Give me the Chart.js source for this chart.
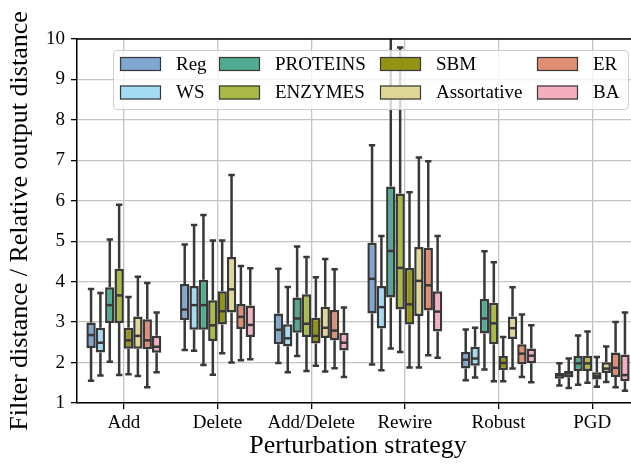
<!DOCTYPE html>
<html>
<head>
<meta charset="utf-8">
<script src="https://cdn.jsdelivr.net/npm/chart.js@4/dist/chart.umd.min.js"></script>
<style>
    html, body { margin: 0; padding: 0; background: #fff; overflow: hidden; }
    #wrap { width: 631px; height: 465px; overflow: hidden; }
</style>
</head>
<body>
<div id="wrap"><canvas id="myChart" width="660" height="465"></canvas></div>
<script>
// categories on the x axis
const categories = ['Add', 'Delete', 'Add/Delete', 'Rewire', 'Robust', 'PGD'];
const seriesNames = ['Reg', 'WS', 'PROTEINS', 'ENZYMES', 'SBM', 'Assortative', 'ER', 'BA'];
const seriesColors = ['#7fa7d0', '#a3dbf2', '#4fab91', '#abb946', '#939414', '#e0d797', '#df8e73', '#f3aec0'];

// each entry: [lower whisker, q1, median, q3, upper whisker]
const reg = [
    [1.55, 2.36, 2.68, 2.99, 3.82],
    [2.31, 3.05, 3.31, 3.94, 4.92],
    [1.99, 2.45, 2.81, 3.21, 4.32],
    [1.95, 3.21, 4.07, 4.96, 7.37],
    [1.56, 1.85, 2.07, 2.26, 2.82],
    [1.43, 1.60, 1.69, 1.74, 1.98]
];
const ws = [
    [1.68, 2.25, 2.49, 2.86, 3.72],
    [2.29, 2.81, 3.42, 3.89, 5.40],
    [1.76, 2.40, 2.60, 2.95, 3.87],
    [1.81, 2.84, 3.37, 3.89, 5.13],
    [1.63, 1.92, 2.10, 2.39, 2.86],
    [1.37, 1.63, 1.73, 1.79, 2.10]
];
const proteins = [
    [2.02, 2.98, 3.42, 3.86, 5.04],
    [1.94, 2.81, 3.42, 4.05, 5.65],
    [2.16, 2.74, 3.09, 3.61, 4.87],
    [2.35, 3.61, 4.76, 6.35, 10.6],
    [1.83, 2.72, 3.09, 3.57, 4.75],
    [1.45, 1.79, 1.98, 2.16, 2.67]
];
const enzymes = [
    [1.69, 2.98, 3.66, 4.32, 5.90],
    [1.70, 2.53, 2.92, 3.54, 5.02],
    [1.79, 2.63, 2.96, 3.69, 4.61],
    [2.26, 3.31, 4.34, 6.18, 9.79],
    [1.54, 2.45, 2.97, 3.48, 4.48],
    [1.50, 1.79, 1.98, 2.17, 2.77]
];
const sbm = [
    [1.71, 2.34, 2.55, 2.86, 3.62],
    [2.23, 2.94, 3.27, 3.76, 5.02],
    [1.92, 2.47, 2.66, 3.11, 4.11],
    [1.88, 2.94, 3.44, 4.34, 6.21],
    [1.54, 1.81, 1.99, 2.16, 2.63],
    [1.40, 1.58, 1.66, 1.76, 2.14]
];
const assortative = [
    [1.67, 2.34, 2.66, 3.14, 4.12],
    [2.00, 3.24, 3.81, 4.61, 6.64],
    [1.78, 2.61, 2.86, 3.38, 4.56],
    [1.88, 3.15, 4.02, 4.86, 7.07],
    [1.85, 2.58, 2.85, 3.14, 3.86],
    [1.52, 1.74, 1.85, 2.01, 2.40]
];
const er = [
    [1.39, 2.33, 2.55, 3.07, 3.97],
    [2.06, 2.83, 3.13, 3.45, 4.39],
    [1.86, 2.55, 2.79, 3.30, 4.31],
    [2.18, 3.29, 3.91, 4.84, 6.98],
    [1.64, 1.96, 2.22, 2.45, 3.19],
    [1.39, 1.64, 1.87, 2.25, 3.00]
];
const ba = [
    [1.76, 2.24, 2.39, 2.66, 3.24],
    [2.08, 2.63, 2.93, 3.41, 4.33],
    [1.64, 2.30, 2.49, 2.74, 3.36],
    [2.12, 2.77, 3.26, 3.76, 5.13],
    [1.51, 1.98, 2.17, 2.35, 2.92],
    [1.30, 1.54, 1.69, 2.20, 3.24]
];
const seriesStats = [reg, ws, proteins, enzymes, sbm, assortative, er, ba];

const yTicks = [1, 2, 3, 4, 5, 6, 7, 8, 9, 10];

const edgeColor = '#383838';
const serif = 'Liberation Serif';

// whiskers under the boxes, medians on top, then frame + legend
const boxPlotPlugin = {
    id: 'boxPlot',
    beforeDatasetsDraw(chart) {
        const ctx = chart.ctx;
        const yScale = chart.scales.y;
        const area = chart.chartArea;
        ctx.save();
        ctx.beginPath();
        ctx.rect(area.left, area.top, area.right - area.left, area.bottom - area.top);
        ctx.clip();
        ctx.strokeStyle = edgeColor;
        ctx.lineWidth = 2.5;
        chart.data.datasets.forEach((dataset, di) => {
            const meta = chart.getDatasetMeta(di);
            meta.data.forEach((bar, i) => {
                const s = dataset.stats[i];
                const capHalf = bar.width * 0.34;
                const yLo = yScale.getPixelForValue(s[0]);
                const yQ1 = yScale.getPixelForValue(s[1]);
                const yQ3 = yScale.getPixelForValue(s[3]);
                const yHi = yScale.getPixelForValue(s[4]);
                ctx.beginPath();
                ctx.moveTo(bar.x, yQ1);
                ctx.lineTo(bar.x, yLo);
                ctx.moveTo(bar.x, yQ3);
                ctx.lineTo(bar.x, yHi);
                ctx.moveTo(bar.x - capHalf, yLo);
                ctx.lineTo(bar.x + capHalf, yLo);
                ctx.moveTo(bar.x - capHalf, yHi);
                ctx.lineTo(bar.x + capHalf, yHi);
                ctx.stroke();
            });
        });
        ctx.restore();
    },
    afterDatasetsDraw(chart) {
        const ctx = chart.ctx;
        const yScale = chart.scales.y;
        ctx.save();
        ctx.strokeStyle = edgeColor;
        ctx.lineWidth = 2.5;
        chart.data.datasets.forEach((dataset, di) => {
            const meta = chart.getDatasetMeta(di);
            meta.data.forEach((bar, i) => {
                const yMed = yScale.getPixelForValue(dataset.stats[i][2]);
                ctx.beginPath();
                ctx.moveTo(bar.x - bar.width / 2 + 1, yMed);
                ctx.lineTo(bar.x + bar.width / 2 - 1, yMed);
                ctx.stroke();
            });
        });
        ctx.restore();
    },
    afterDraw(chart) {
        const ctx = chart.ctx;
        const area = chart.chartArea;
        ctx.save();
        // top spine
        ctx.strokeStyle = '#000';
        ctx.lineWidth = 1.5;
        ctx.beginPath();
        ctx.moveTo(area.left, area.top);
        ctx.lineTo(area.right, area.top);
        ctx.stroke();

        // legend box, 2 rows x 4 columns, filled column by column
        const lx = 113, ly = 50, lw = 515, lh = 59;
        ctx.fillStyle = 'rgba(255,255,255,0.8)';
        ctx.strokeStyle = '#cccccc';
        ctx.lineWidth = 1;
        ctx.beginPath();
        ctx.roundRect(lx + 0.5, ly + 0.5, lw, lh, 4);
        ctx.fill();
        ctx.stroke();

        const colX = [120, 219, 380, 537];
        const rowY = [64, 92.5];
        ctx.font = '19px "' + serif + '"';
        ctx.textBaseline = 'middle';
        ctx.textAlign = 'left';
        seriesNames.forEach((name, i) => {
            const col = Math.floor(i / 2);
            const row = i % 2;
            const px = colX[col];
            const py = rowY[row];
            ctx.fillStyle = seriesColors[i];
            ctx.fillRect(px, py - 7, 41, 14);
            ctx.strokeStyle = edgeColor;
            ctx.lineWidth = 1.2;
            ctx.strokeRect(px + 0.5, py - 6.5, 40, 13);
            ctx.fillStyle = '#000';
            ctx.fillText(name, px + 56, py + 1);
        });
        ctx.restore();
    }
};

function createChart() {
    const ctx = document.getElementById('myChart').getContext('2d');
    return new Chart(ctx, {
        type: 'bar',
        data: {
            labels: categories,
            datasets: seriesNames.map((name, i) => ({
                label: name,
                data: seriesStats[i].map(s => [s[1], s[3]]),
                stats: seriesStats[i],
                backgroundColor: seriesColors[i],
                borderColor: edgeColor,
                borderWidth: 2.5,
                borderSkipped: false,
                categoryPercentage: 0.8,
                barPercentage: 1.0
            }))
        },
        options: {
            responsive: false,
            animation: false,
            layout: {
                padding: { top: 39, right: 21, left: 0, bottom: 0 }
            },
            plugins: {
                legend: { display: false },
                tooltip: { enabled: false }
            },
            scales: {
                x: {
                    grid: { offset: false, color: '#c4c4c4', lineWidth: 1.3, tickColor: '#000', tickLength: 6 },
                    border: { color: '#000', width: 1.5 },
                    ticks: { color: '#000', font: { family: serif, size: 19 }, padding: 3, maxRotation: 0 },
                    title: {
                        display: true,
                        text: 'Perturbation strategy',
                        color: '#000',
                        font: { family: serif, size: 26 },
                        padding: { top: 0, bottom: 3 }
                    },
                    afterFit: scale => { scale.height = 62; }
                },
                y: {
                    min: 1,
                    max: 10,
                    afterBuildTicks: scale => { scale.ticks = yTicks.map(v => ({ value: v })); },
                    grid: { color: '#c4c4c4', lineWidth: 1.3, tickColor: '#000', tickLength: 6 },
                    border: { color: '#000', width: 1.5 },
                    ticks: { color: '#000', font: { family: serif, size: 19 }, padding: 6 },
                    title: {
                        display: true,
                        text: 'Filter distance / Relative output distance',
                        color: '#000',
                        font: { family: serif, size: 26 },
                        padding: { top: 5, bottom: 0 }
                    },
                    afterFit: scale => { scale.width = 77; }
                }
            }
        },
        plugins: [boxPlotPlugin]
    });
}

let chart = createChart();
</script>
</body>
</html>
